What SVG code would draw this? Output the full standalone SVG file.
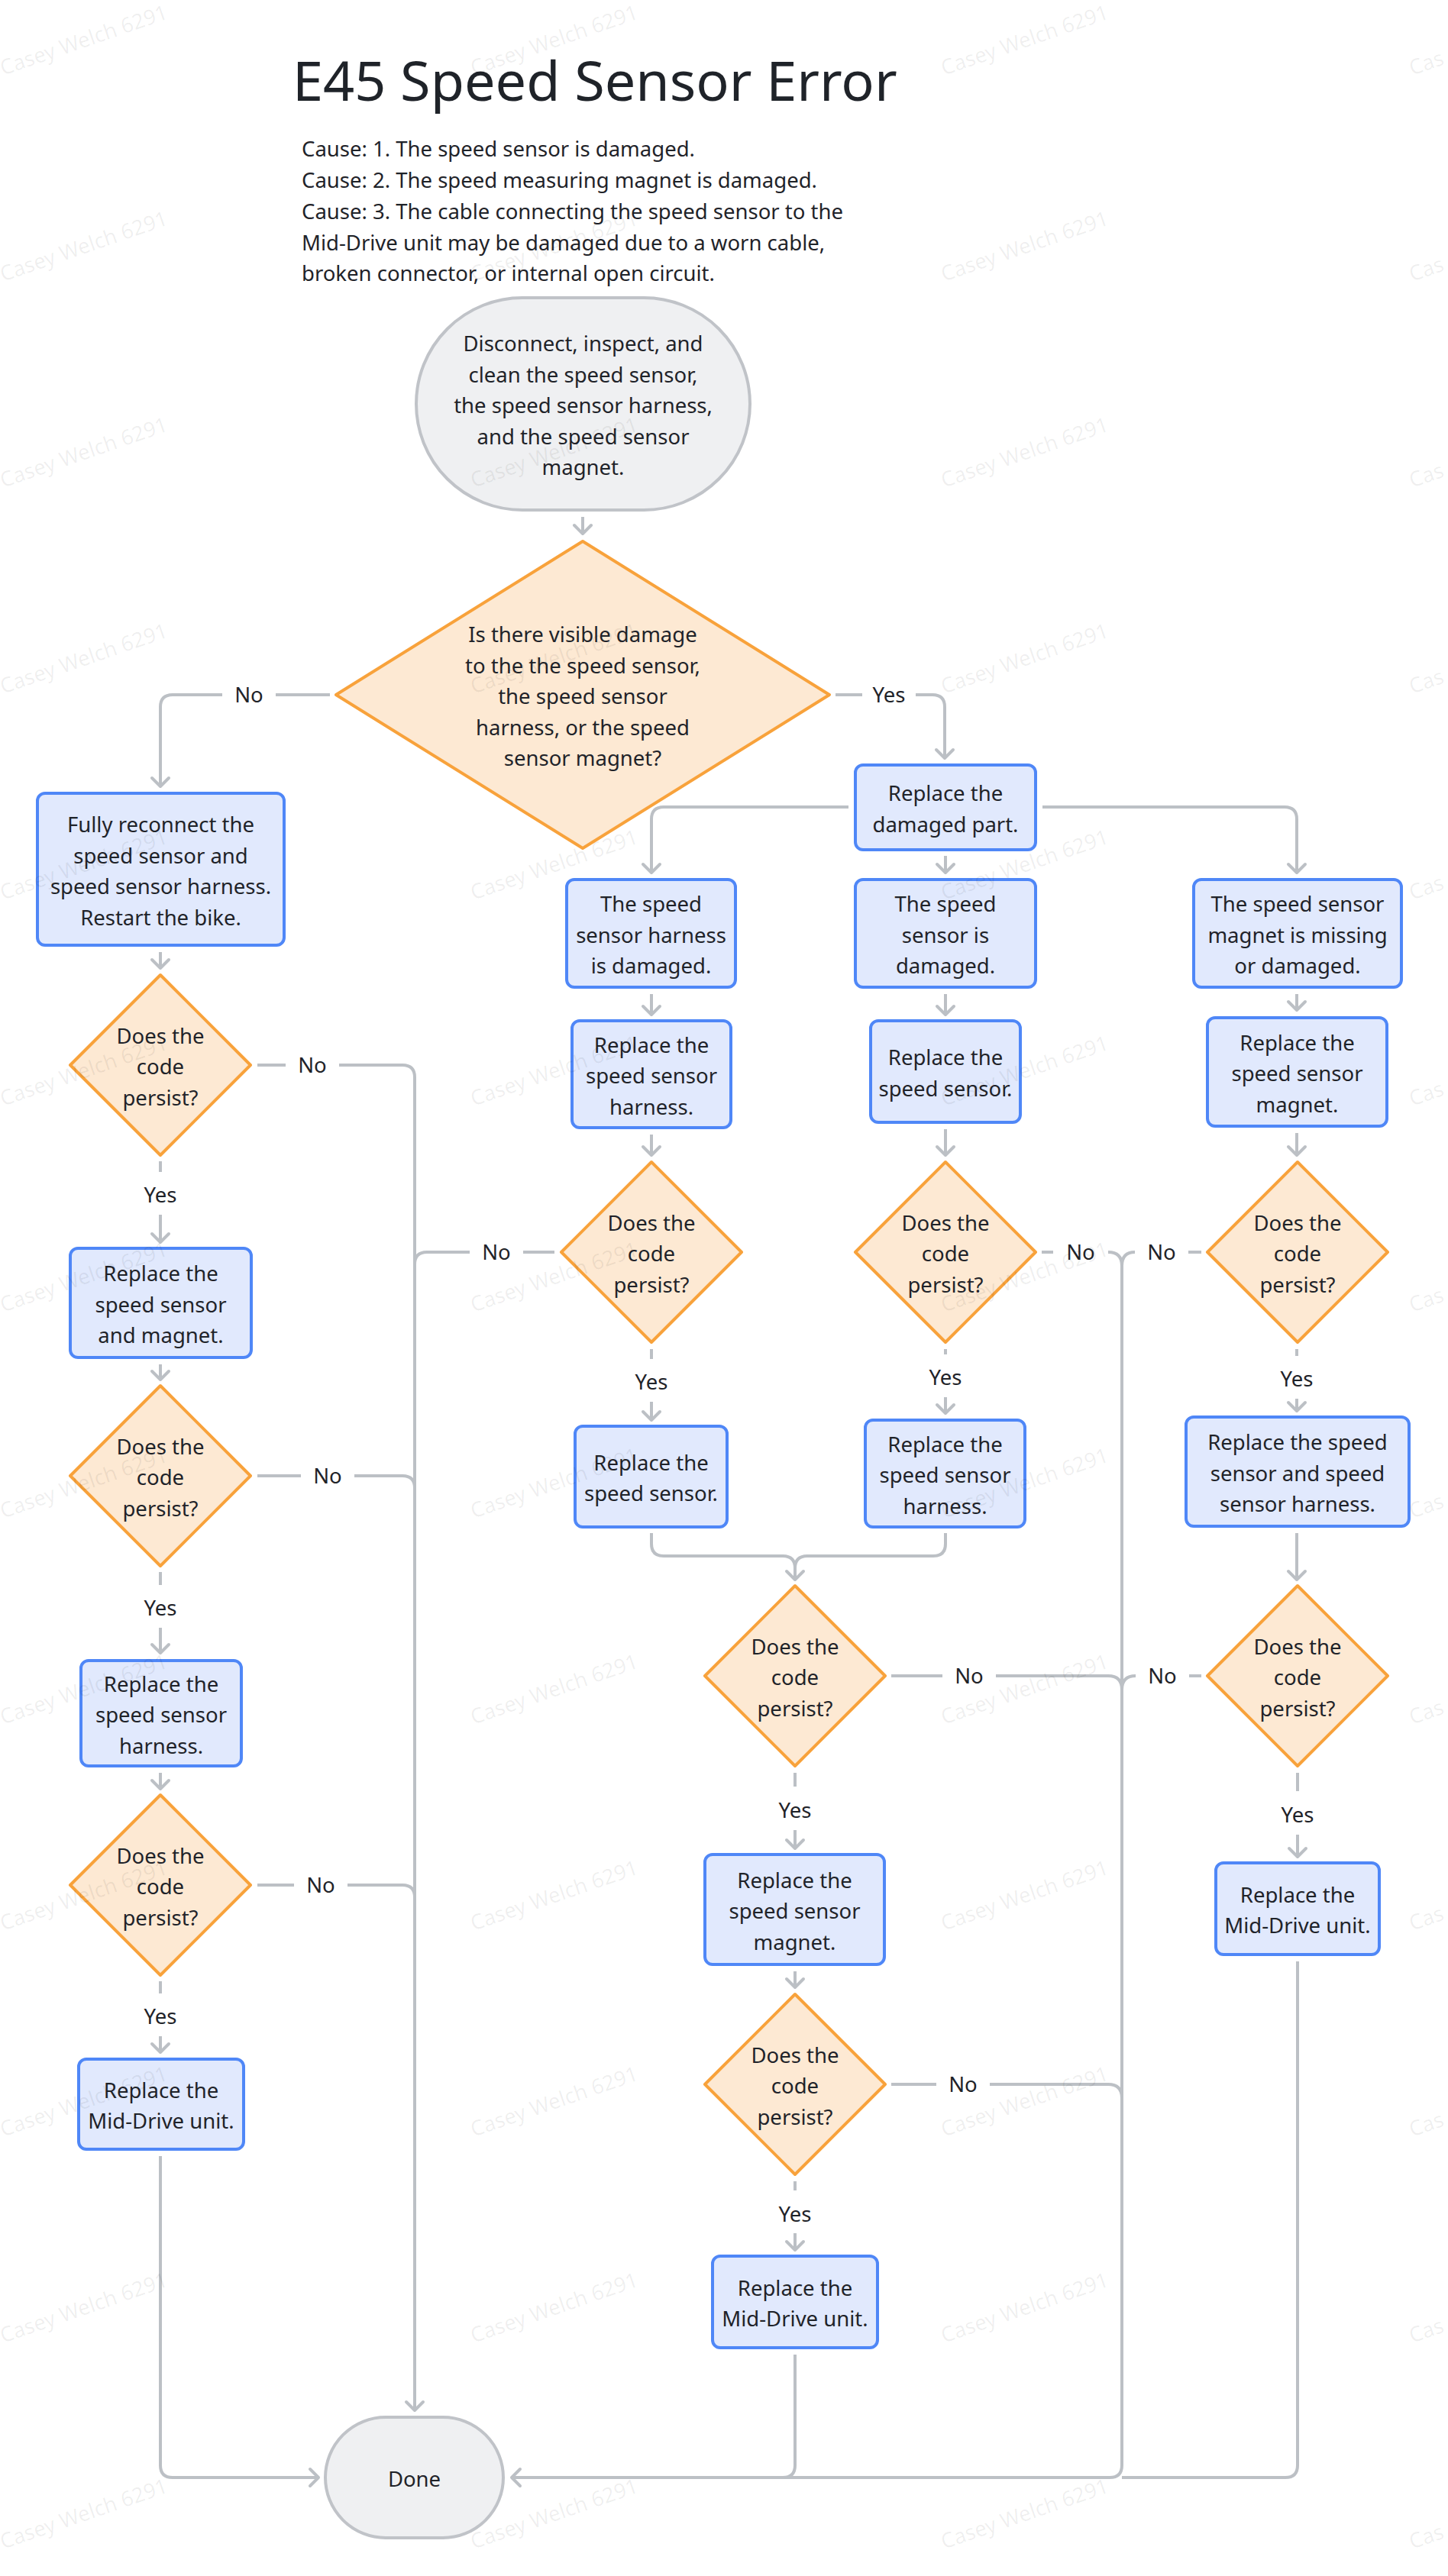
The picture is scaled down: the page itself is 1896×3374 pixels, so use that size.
<svg xmlns="http://www.w3.org/2000/svg" width="1896" height="3374" viewBox="0 0 1896 3374">
<defs>
<style>
text{font-family:"Noto Sans","Liberation Sans",sans-serif;font-size:27.5px;fill:#1f2329}
.c{text-anchor:middle}
.box{fill:#e1e9fd;stroke:#4f87f7;stroke-width:4}
.dia{fill:#fde9d3;stroke:#f8a23b;stroke-width:4;stroke-linejoin:round}
.term{fill:#eff0f2;stroke:#c0c3c8;stroke-width:4}
.e{fill:none;stroke:#bcc0c5;stroke-width:4}
.ea{fill:none;stroke:#bcc0c5;stroke-width:4;marker-end:url(#a)}
.wm{font-size:27.5px;fill:#000;fill-opacity:0.065}
</style>
<marker id="a" markerUnits="userSpaceOnUse" viewBox="-14 -14 28 28" markerWidth="28" markerHeight="28" refX="0" refY="0" orient="auto" overflow="visible">
<path d="M-11,-11 L0,0 L-11,11" fill="none" stroke="#bcc0c5" stroke-width="4" stroke-linecap="round" stroke-linejoin="round"/>
</marker>
</defs>
<rect width="1896" height="3374" fill="#ffffff"/>

<g id="title">
<text x="383" y="132" style="font-size:72px">E45 Speed Sensor Error</text>
<text x="395" y="205">Cause: 1. The speed sensor is damaged.</text>
<text x="395" y="246">Cause: 2. The speed measuring magnet is damaged.</text>
<text x="395" y="287">Cause: 3. The cable connecting the speed sensor to the</text>
<text x="395" y="328">Mid-Drive unit may be damaged due to a worn cable,</text>
<text x="395" y="368">broken connector, or internal open circuit.</text>
</g>

<g id="connectors">
<path class="ea" d="M763,677 V699"/>
<path class="ea" d="M432,910 H361 M291,910 H226 Q210,910 210,926 V1030"/>
<path class="ea" d="M1094,910 H1129 M1199,910 H1221 Q1237,910 1237,926 V993"/>
<path class="ea" d="M1111,1057 H869 Q853,1057 853,1073 V1143"/>
<path class="ea" d="M1238,1121 V1143"/>
<path class="ea" d="M1365,1057 H1682 Q1698,1057 1698,1073 V1143"/>
<path class="ea" d="M853,1302 V1329"/>
<path class="ea" d="M1238,1302 V1329"/>
<path class="ea" d="M1698,1302 V1323"/>
<path class="ea" d="M853,1486 V1513"/>
<path class="ea" d="M1238,1479 V1513"/>
<path class="ea" d="M1698,1484 V1513"/>
<path class="ea" d="M210,1247 V1268"/>
<path class="ea" d="M337,1395 H374 M444,1395 H527 Q543,1395 543,1411 V3157"/>
<path class="ea" d="M210,1521 V1535 M210,1591 V1627"/>
<path class="ea" d="M210,1787 V1807"/>
<path class="e" d="M337,1933 H394 M464,1933 H527 Q543,1933 543,1949"/>
<path class="ea" d="M210,2059 V2076 M210,2132 V2165"/>
<path class="ea" d="M210,2322 V2343"/>
<path class="e" d="M337,2469 H385 M455,2469 H527 Q543,2469 543,2485"/>
<path class="ea" d="M210,2595 V2611 M210,2667 V2688"/>
<path class="ea" d="M210,2824 V3229 Q210,3245 226,3245 H417"/>
<path class="e" d="M726,1640 H685 M615,1640 H559 Q543,1640 543,1656"/>
<path class="ea" d="M853,1767 V1780 M853,1836 V1860"/>
<path class="ea" d="M1364,1640 H1379 M1451,1640 Q1469,1640 1469,1658 V3229 Q1469,3245 1453,3245 H670"/>
<path class="e" d="M1573,1640 H1556 M1486,1640 Q1469,1640 1469,1658"/>
<path class="ea" d="M1238,1767 V1774 M1238,1830 V1851"/>
<path class="ea" d="M1698,1767 V1776 M1698,1832 V1848"/>
<path class="ea" d="M853,2008 V2022 Q853,2038 869,2038 H1025 Q1041,2038 1041,2054 V2069"/>
<path class="e" d="M1238,2008 V2022 Q1238,2038 1222,2038 H1057 Q1041,2038 1041,2054"/>
<path class="ea" d="M1698,2008 V2069"/>
<path class="e" d="M1167,2195 H1234 M1304,2195 H1451 Q1469,2195 1469,2213"/>
<path class="e" d="M1573,2195 H1557 M1487,2195 Q1469,2195 1469,2213"/>
<path class="ea" d="M1041,2322 V2340 M1041,2397 V2421"/>
<path class="ea" d="M1699,2322 V2346 M1699,2403 V2432"/>
<path class="ea" d="M1041,2582 V2603"/>
<path class="e" d="M1167,2730 H1226 M1296,2730 H1451 Q1469,2730 1469,2748"/>
<path class="ea" d="M1041,2857 V2869 M1041,2925 V2947"/>
<path class="e" d="M1041,3084 V3229 Q1041,3245 1025,3245 H680"/>
<path class="e" d="M1699,2569 V3229 Q1699,3245 1683,3245 H1469"/>
<g class="c">
<text x="326" y="920">No</text>
<text x="1164" y="920">Yes</text>
<text x="409" y="1405">No</text>
<text x="210" y="1575">Yes</text>
<text x="429" y="1943">No</text>
<text x="210" y="2116">Yes</text>
<text x="420" y="2479">No</text>
<text x="210" y="2651">Yes</text>
<text x="650" y="1650">No</text>
<text x="853" y="1820">Yes</text>
<text x="1415" y="1650">No</text>
<text x="1238" y="1814">Yes</text>
<text x="1521" y="1650">No</text>
<text x="1698" y="1816">Yes</text>
<text x="1269" y="2205">No</text>
<text x="1041" y="2381">Yes</text>
<text x="1522" y="2205">No</text>
<text x="1699" y="2387">Yes</text>
<text x="1261" y="2740">No</text>
<text x="1041" y="2910">Yes</text>
</g>
</g>

<g id="start">
<rect class="term" x="545" y="390" width="437" height="278" rx="139"/>
<text class="c" x="763.5" y="460">Disconnect, inspect, and</text>
<text class="c" x="763.5" y="500.5">clean the speed sensor,</text>
<text class="c" x="763.5" y="541">the speed sensor harness,</text>
<text class="c" x="763.5" y="581.5">and the speed sensor</text>
<text class="c" x="763.5" y="622">magnet.</text>
</g>

<g id="q_damage">
<polygon class="dia" points="763,709 1086,910 763,1111 440,910"/>
<text class="c" x="763" y="841">Is there visible damage</text>
<text class="c" x="763" y="881.5">to the the speed sensor,</text>
<text class="c" x="763" y="922">the speed sensor</text>
<text class="c" x="763" y="962.5">harness, or the speed</text>
<text class="c" x="763" y="1003">sensor magnet?</text>
</g>

<g id="reconnect">
<rect class="box" x="49" y="1039" width="323" height="199" rx="10"/>
<text class="c" x="210.5" y="1090">Fully reconnect the</text>
<text class="c" x="210.5" y="1130.5">speed sensor and</text>
<text class="c" x="210.5" y="1171">speed sensor harness.</text>
<text class="c" x="210.5" y="1211.5">Restart the bike.</text>
</g>

<g id="q_left1">
<polygon class="dia" points="210,1277 328,1395 210,1513 92,1395"/>
<text class="c" x="210" y="1366.5">Does the</text>
<text class="c" x="210" y="1407">code</text>
<text class="c" x="210" y="1447.5">persist?</text>
</g>

<g id="left_replace_sensor_magnet">
<rect class="box" x="92" y="1635" width="237" height="143" rx="10"/>
<text class="c" x="210.5" y="1678">Replace the</text>
<text class="c" x="210.5" y="1718.5">speed sensor</text>
<text class="c" x="210.5" y="1759">and magnet.</text>
</g>

<g id="q_left2">
<polygon class="dia" points="210,1815 328,1933 210,2051 92,1933"/>
<text class="c" x="210" y="1904.5">Does the</text>
<text class="c" x="210" y="1945">code</text>
<text class="c" x="210" y="1985.5">persist?</text>
</g>

<g id="left_replace_harness">
<rect class="box" x="106" y="2175" width="210" height="138" rx="10"/>
<text class="c" x="211" y="2215.5">Replace the</text>
<text class="c" x="211" y="2256">speed sensor</text>
<text class="c" x="211" y="2296.5">harness.</text>
</g>

<g id="q_left3">
<polygon class="dia" points="210,2351 328,2469 210,2587 92,2469"/>
<text class="c" x="210" y="2440.5">Does the</text>
<text class="c" x="210" y="2481">code</text>
<text class="c" x="210" y="2521.5">persist?</text>
</g>

<g id="left_mid_drive">
<rect class="box" x="103" y="2697" width="216" height="118" rx="10"/>
<text class="c" x="211" y="2747.5">Replace the</text>
<text class="c" x="211" y="2788">Mid-Drive unit.</text>
</g>

<g id="replace_damaged">
<rect class="box" x="1120" y="1002" width="236" height="111" rx="10"/>
<text class="c" x="1238" y="1049">Replace the</text>
<text class="c" x="1238" y="1089.5">damaged part.</text>
</g>

<g id="harness_damaged">
<rect class="box" x="742" y="1152" width="221" height="141" rx="10"/>
<text class="c" x="852.5" y="1194">The speed</text>
<text class="c" x="852.5" y="1234.5">sensor harness</text>
<text class="c" x="852.5" y="1275">is damaged.</text>
</g>

<g id="sensor_damaged">
<rect class="box" x="1120" y="1152" width="236" height="141" rx="10"/>
<text class="c" x="1238" y="1194">The speed</text>
<text class="c" x="1238" y="1234.5">sensor is</text>
<text class="c" x="1238" y="1275">damaged.</text>
</g>

<g id="magnet_damaged">
<rect class="box" x="1563" y="1152" width="272" height="141" rx="10"/>
<text class="c" x="1699" y="1194">The speed sensor</text>
<text class="c" x="1699" y="1234.5">magnet is missing</text>
<text class="c" x="1699" y="1275">or damaged.</text>
</g>

<g id="replace_harness_a">
<rect class="box" x="749" y="1337" width="208" height="140" rx="10"/>
<text class="c" x="853" y="1378.5">Replace the</text>
<text class="c" x="853" y="1419">speed sensor</text>
<text class="c" x="853" y="1459.5">harness.</text>
</g>

<g id="replace_sensor_b">
<rect class="box" x="1140" y="1337" width="196" height="133" rx="10"/>
<text class="c" x="1238" y="1395">Replace the</text>
<text class="c" x="1238" y="1435.5">speed sensor.</text>
</g>

<g id="replace_magnet_c">
<rect class="box" x="1581" y="1333" width="235" height="142" rx="10"/>
<text class="c" x="1698.5" y="1375.5">Replace the</text>
<text class="c" x="1698.5" y="1416">speed sensor</text>
<text class="c" x="1698.5" y="1456.5">magnet.</text>
</g>

<g id="q_a">
<polygon class="dia" points="853,1522 971,1640 853,1758 735,1640"/>
<text class="c" x="853" y="1611.5">Does the</text>
<text class="c" x="853" y="1652">code</text>
<text class="c" x="853" y="1692.5">persist?</text>
</g>

<g id="q_b">
<polygon class="dia" points="1238,1522 1356,1640 1238,1758 1120,1640"/>
<text class="c" x="1238" y="1611.5">Does the</text>
<text class="c" x="1238" y="1652">code</text>
<text class="c" x="1238" y="1692.5">persist?</text>
</g>

<g id="q_c">
<polygon class="dia" points="1699,1522 1817,1640 1699,1758 1581,1640"/>
<text class="c" x="1699" y="1611.5">Does the</text>
<text class="c" x="1699" y="1652">code</text>
<text class="c" x="1699" y="1692.5">persist?</text>
</g>

<g id="a_replace_sensor">
<rect class="box" x="753" y="1868" width="199" height="132" rx="10"/>
<text class="c" x="852.5" y="1925.5">Replace the</text>
<text class="c" x="852.5" y="1966">speed sensor.</text>
</g>

<g id="b_replace_harness">
<rect class="box" x="1133" y="1860" width="209" height="140" rx="10"/>
<text class="c" x="1237.5" y="1901.5">Replace the</text>
<text class="c" x="1237.5" y="1942">speed sensor</text>
<text class="c" x="1237.5" y="1982.5">harness.</text>
</g>

<g id="c_replace_both">
<rect class="box" x="1553" y="1856" width="292" height="143" rx="10"/>
<text class="c" x="1699" y="1899">Replace the speed</text>
<text class="c" x="1699" y="1939.5">sensor and speed</text>
<text class="c" x="1699" y="1980">sensor harness.</text>
</g>

<g id="q_d">
<polygon class="dia" points="1041,2077 1159,2195 1041,2313 923,2195"/>
<text class="c" x="1041" y="2166.5">Does the</text>
<text class="c" x="1041" y="2207">code</text>
<text class="c" x="1041" y="2247.5">persist?</text>
</g>

<g id="q_f">
<polygon class="dia" points="1699,2077 1817,2195 1699,2313 1581,2195"/>
<text class="c" x="1699" y="2166.5">Does the</text>
<text class="c" x="1699" y="2207">code</text>
<text class="c" x="1699" y="2247.5">persist?</text>
</g>

<g id="d_replace_magnet">
<rect class="box" x="923" y="2429" width="235" height="144" rx="10"/>
<text class="c" x="1040.5" y="2472.5">Replace the</text>
<text class="c" x="1040.5" y="2513">speed sensor</text>
<text class="c" x="1040.5" y="2553.5">magnet.</text>
</g>

<g id="f_mid_drive">
<rect class="box" x="1592" y="2440" width="214" height="120" rx="10"/>
<text class="c" x="1699" y="2491.5">Replace the</text>
<text class="c" x="1699" y="2532">Mid-Drive unit.</text>
</g>

<g id="q_e">
<polygon class="dia" points="1041,2612 1159,2730 1041,2848 923,2730"/>
<text class="c" x="1041" y="2701.5">Does the</text>
<text class="c" x="1041" y="2742">code</text>
<text class="c" x="1041" y="2782.5">persist?</text>
</g>

<g id="e_mid_drive">
<rect class="box" x="933" y="2955" width="216" height="120" rx="10"/>
<text class="c" x="1041" y="3006.5">Replace the</text>
<text class="c" x="1041" y="3047">Mid-Drive unit.</text>
</g>

<g id="done">
<rect class="term" x="426" y="3166" width="233" height="158" rx="79"/>
<text class="c" x="542.5" y="3257">Done</text>
</g>

<g id="watermarks">
<text class="wm" transform="translate(4,99) rotate(-19)">Casey Welch 6291</text>
<text class="wm" transform="translate(620,99) rotate(-19)">Casey Welch 6291</text>
<text class="wm" transform="translate(1236,99) rotate(-19)">Casey Welch 6291</text>
<text class="wm" transform="translate(1849,99) rotate(-19)">Cas</text>
<text class="wm" transform="translate(4,369) rotate(-19)">Casey Welch 6291</text>
<text class="wm" transform="translate(620,369) rotate(-19)">Casey Welch 6291</text>
<text class="wm" transform="translate(1236,369) rotate(-19)">Casey Welch 6291</text>
<text class="wm" transform="translate(1849,369) rotate(-19)">Cas</text>
<text class="wm" transform="translate(4,639) rotate(-19)">Casey Welch 6291</text>
<text class="wm" transform="translate(620,639) rotate(-19)">Casey Welch 6291</text>
<text class="wm" transform="translate(1236,639) rotate(-19)">Casey Welch 6291</text>
<text class="wm" transform="translate(1849,639) rotate(-19)">Cas</text>
<text class="wm" transform="translate(4,909) rotate(-19)">Casey Welch 6291</text>
<text class="wm" transform="translate(620,909) rotate(-19)">Casey Welch 6291</text>
<text class="wm" transform="translate(1236,909) rotate(-19)">Casey Welch 6291</text>
<text class="wm" transform="translate(1849,909) rotate(-19)">Cas</text>
<text class="wm" transform="translate(4,1179) rotate(-19)">Casey Welch 6291</text>
<text class="wm" transform="translate(620,1179) rotate(-19)">Casey Welch 6291</text>
<text class="wm" transform="translate(1236,1179) rotate(-19)">Casey Welch 6291</text>
<text class="wm" transform="translate(1849,1179) rotate(-19)">Cas</text>
<text class="wm" transform="translate(4,1449) rotate(-19)">Casey Welch 6291</text>
<text class="wm" transform="translate(620,1449) rotate(-19)">Casey Welch 6291</text>
<text class="wm" transform="translate(1236,1449) rotate(-19)">Casey Welch 6291</text>
<text class="wm" transform="translate(1849,1449) rotate(-19)">Cas</text>
<text class="wm" transform="translate(4,1719) rotate(-19)">Casey Welch 6291</text>
<text class="wm" transform="translate(620,1719) rotate(-19)">Casey Welch 6291</text>
<text class="wm" transform="translate(1236,1719) rotate(-19)">Casey Welch 6291</text>
<text class="wm" transform="translate(1849,1719) rotate(-19)">Cas</text>
<text class="wm" transform="translate(4,1989) rotate(-19)">Casey Welch 6291</text>
<text class="wm" transform="translate(620,1989) rotate(-19)">Casey Welch 6291</text>
<text class="wm" transform="translate(1236,1989) rotate(-19)">Casey Welch 6291</text>
<text class="wm" transform="translate(1849,1989) rotate(-19)">Cas</text>
<text class="wm" transform="translate(4,2259) rotate(-19)">Casey Welch 6291</text>
<text class="wm" transform="translate(620,2259) rotate(-19)">Casey Welch 6291</text>
<text class="wm" transform="translate(1236,2259) rotate(-19)">Casey Welch 6291</text>
<text class="wm" transform="translate(1849,2259) rotate(-19)">Cas</text>
<text class="wm" transform="translate(4,2529) rotate(-19)">Casey Welch 6291</text>
<text class="wm" transform="translate(620,2529) rotate(-19)">Casey Welch 6291</text>
<text class="wm" transform="translate(1236,2529) rotate(-19)">Casey Welch 6291</text>
<text class="wm" transform="translate(1849,2529) rotate(-19)">Cas</text>
<text class="wm" transform="translate(4,2799) rotate(-19)">Casey Welch 6291</text>
<text class="wm" transform="translate(620,2799) rotate(-19)">Casey Welch 6291</text>
<text class="wm" transform="translate(1236,2799) rotate(-19)">Casey Welch 6291</text>
<text class="wm" transform="translate(1849,2799) rotate(-19)">Cas</text>
<text class="wm" transform="translate(4,3069) rotate(-19)">Casey Welch 6291</text>
<text class="wm" transform="translate(620,3069) rotate(-19)">Casey Welch 6291</text>
<text class="wm" transform="translate(1236,3069) rotate(-19)">Casey Welch 6291</text>
<text class="wm" transform="translate(1849,3069) rotate(-19)">Cas</text>
<text class="wm" transform="translate(4,3339) rotate(-19)">Casey Welch 6291</text>
<text class="wm" transform="translate(620,3339) rotate(-19)">Casey Welch 6291</text>
<text class="wm" transform="translate(1236,3339) rotate(-19)">Casey Welch 6291</text>
<text class="wm" transform="translate(1849,3339) rotate(-19)">Cas</text>
</g>
</svg>
